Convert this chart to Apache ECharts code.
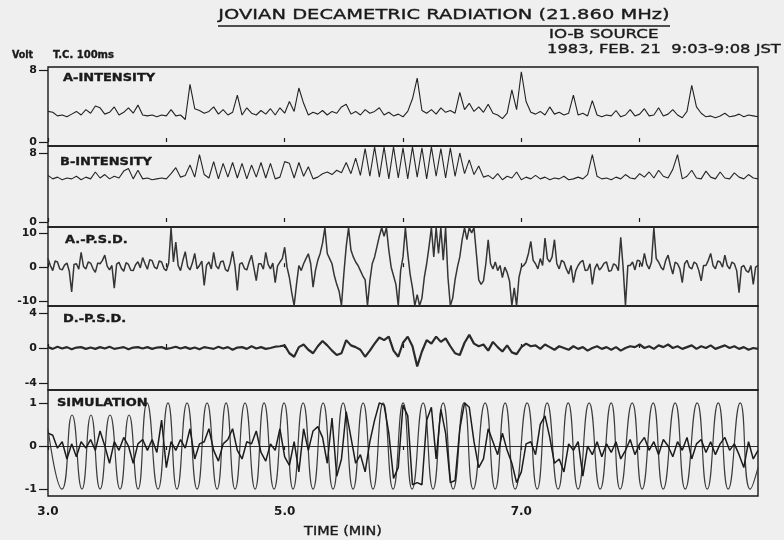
<!DOCTYPE html>
<html>
<head>
<meta charset="utf-8">
<script src="https://cdn.jsdelivr.net/npm/echarts@6/dist/echarts.min.js"></script>
<style>
  html, body { margin: 0; padding: 0; background: #efefef; }
  #chart { width: 784px; height: 540px; }
</style>
</head>
<body>
<div id="chart"></div>
<script>
// sampling of the recorded traces (minutes)
const t0 = 3.0;
const dtSlow = 0.04;   // intensities, D-PSD, measured curve
const dtFast = 0.02;   // A-PSD is read at double density

const timeTicks = [3, 4, 5, 6, 7, 8];
const timeLabels = [3, 5, 7];

const aIntensity = [
  3.4,3.3,2.9,3.0,2.8,3.1,3.4,3.0,3.6,3.2, 4.0,3.8,3.1,3.3,3.9,3.0,3.3,3.8,3.2,4.1,
  3.0,2.9,3.0,2.8,3.0,2.9,3.6,2.9,3.0,2.5, 6.4,3.7,3.5,3.2,3.4,3.9,3.1,3.6,3.0,3.3,
  5.2,3.0,3.8,3.2,3.0,3.5,3.1,3.7,3.0,3.8, 3.2,4.5,3.4,6.0,4.3,3.0,3.3,3.1,3.5,3.0,
  3.4,3.2,3.9,4.2,3.1,3.4,3.0,3.6,3.2,3.4, 3.8,3.0,3.3,2.9,3.1,2.8,3.4,4.8,7.1,3.5,
  3.2,3.6,3.1,3.8,3.3,3.5,3.2,5.5,3.6,4.3, 3.4,3.9,3.3,4.2,3.2,3.0,2.6,3.2,5.8,3.6,
  7.8,4.5,3.3,3.1,3.4,3.0,3.9,3.1,3.3,3.0, 3.2,5.2,3.0,3.2,2.9,4.6,3.0,2.8,3.0,2.9,
  3.5,2.8,3.0,3.6,2.9,3.1,3.7,2.9,3.0,3.8, 2.9,3.1,3.6,3.0,2.7,3.4,6.3,3.9,3.2,2.8,
  2.9,2.7,2.9,3.2,2.8,2.9,3.1,2.8,3.0,2.9, 2.8
];

const bIntensity = [
  5.4,5.0,5.2,4.9,5.1,5.0,5.3,4.9,5.2,5.0, 5.8,5.1,5.5,5.0,5.3,5.1,5.9,6.2,5.0,6.0,
  5.0,5.1,4.9,5.0,5.1,5.0,5.6,6.3,5.2,5.4, 6.6,5.2,7.8,5.5,5.1,7.0,5.0,6.8,5.2,6.9,
  5.1,6.8,5.0,6.6,5.2,6.9,5.1,6.8,5.0,5.2, 7.0,6.8,5.1,6.9,5.3,6.4,5.0,5.2,5.6,5.8,
  5.5,6.0,5.7,6.9,5.6,7.4,5.4,8.5,5.3,8.7, 5.2,8.7,5.0,8.7,5.1,8.6,5.0,8.7,5.2,8.6,
  5.0,8.7,5.3,8.5,5.1,8.6,5.3,8.0,5.6,7.2, 5.5,6.5,5.2,5.4,5.0,5.6,4.9,5.3,5.1,5.8,
  4.9,5.2,5.0,5.4,5.0,5.2,4.9,5.1,5.0,5.3, 4.9,5.0,5.2,5.0,5.5,7.8,5.3,5.0,5.1,4.9,
  5.2,5.0,5.5,5.1,5.0,5.6,5.2,5.8,5.1,6.0, 5.3,5.1,6.1,7.8,5.0,5.3,6.0,5.1,5.0,5.9,
  5.2,5.0,5.8,5.1,5.0,5.7,5.2,5.0,5.5,5.1, 5.0
];

const aPsd = [
  2.5,0.5,-1.0,1.8,1.5,-0.5,-0.8,0.6,1.2,-1.2, -7.2,0.8,1.0,-0.6,4.3,0.2,-0.5,1.5,1.2,-0.4,
  -1.5,1.2,1.0,2.0,3.5,0.3,-0.8,0.5,-6.1,0.9, 1.4,-0.3,-1.2,1.3,0.8,-0.9,-1.0,0.7,1.6,-0.2,
  2.8,1.0,-0.6,2.2,1.9,0.0,-0.5,1.8,1.5,-0.4, -1.0,1.2,11.5,1.5,7.3,0.5,-1.0,2.0,4.5,0.2,
  -0.8,1.2,4.0,-0.5,0.5,1.8,-5.3,0.6,1.5,-0.5, 4.3,0.4,-0.5,1.6,1.8,-0.7,-1.2,1.1,4.6,0.3,
  -6.8,0.9,1.3,-0.4,-0.8,1.5,3.5,-0.2,-3.9,1.0, 1.0,-0.6,4.3,0.8,-0.5,1.2,-4.5,0.4,1.5,2.5,
  5.8,0,-3,-7.5,-11.2,-5,0.5,-1,1,2.5, 3.9,1,-5.8,-1,2,4,7,11.5,4,2.5,
  1,-2.5,-5,-7,-11.2,-2,6,11.5,5,3, 1.5,0.5,-1,-2.5,-3.7,-11.2,-4,1,3,6,
  9,11.5,9,11.5,5,0,-2.5,-5,-11.2,-1, 3,11.5,4,-2,-6,-11.2,-8,-11.2,-9,-3,
  1,6,11.5,3,11.5,4,11.5,2,11.5,-3, -11.2,-9,-3.7,0,3,8,11.5,8,11.5,10,
  11.5,4,-3.7,-5,-4,1,8,1,-0.5,1.5, -1,0.5,-3,0,-1.5,-4,-11.2,-6,-11.2,-3,
  0,0.5,1.5,4.0,7.5,2.0,1.0,-0.5,2.5,0.5, 8.5,2.5,1.5,3.0,8.0,1.0,-0.5,2.0,1.5,-0.5,
  -2.0,0.5,-4.5,-1.0,0.5,1.5,2.0,-1.0,-0.8,1.0, -5.0,-0.5,1.0,-0.8,0.0,1.2,1.5,-1.2,-1.0,1.0,
  0.5,-1.0,8.7,0.0,-11.2,0.5,0.5,1.5,-0.8,2.0, 1.8,0.2,4.0,0.8,-0.5,1.5,11.5,2.5,1.5,0.0,
  -0.8,2.0,3.5,0.5,-2.0,1.5,1.0,-0.5,-4.5,1.0, 2.0,0.0,-0.5,1.5,1.0,-1.0,-4.0,0.5,0.5,2.0,
  4.0,0.5,-0.5,1.8,1.5,0.0,3.5,0.5,-0.5,1.5, 1.0,-1.0,-7.4,0.0,0.5,-1.0,-1.5,0.5,-5.0,0.0,
  0.5
];

const dPsd = [
  0.1,-0.1,0.15,-0.05,0.1,-0.15,0.05,0.1,-0.1,0.05, -0.1,0.1,-0.05,0.15,-0.1,0.0,0.1,-0.15,0.05,0.1,
  -0.05,0.1,-0.1,0.05,0.1,-0.1,0.0,0.15,-0.05,0.1, -0.1,0.05,-0.15,0.1,0.0,-0.1,0.15,-0.05,0.1,-0.2,
  0.05,0.1,-0.1,0.2,-0.05,0.1,-0.1,0.0,0.15,0.2, 0.3,-0.6,-1.0,0.1,0.4,-0.2,-0.6,0.2,0.8,0.3,
  -0.3,-0.8,-0.6,0.9,0.3,0.1,-0.2,-1.0,-0.3,0.5, 1.2,0.9,1.3,-0.3,-1.0,0.6,1.3,0.2,-2.1,-0.4,
  0.9,0.5,1.3,0.7,1.1,0.2,-0.6,-0.8,0.6,1.5, 0.5,0.2,0.4,-0.3,0.7,0.1,-0.4,0.3,-0.5,-0.7,
  0.1,0.5,0.2,0.3,-0.1,0.4,0.1,-0.2,0.2,0.0, -0.2,0.2,-0.1,0.1,-0.3,0.0,0.2,-0.1,0.1,-0.2,
  0.1,-0.3,0.0,0.2,0.1,0.4,0.0,0.2,-0.1,0.3, 0.1,0.4,0.0,0.2,-0.1,0.1,0.3,-0.1,0.2,0.0,
  0.3,-0.1,0.1,0.3,0.0,0.2,-0.1,0.1,-0.2,0.0, -0.1
];

const simMeasured = [
  0.3,0.25,-0.05,0.1,-0.3,0.05,-0.25,0.1,-0.05,0.15, -0.1,0.35,0.0,-0.4,0.1,-0.1,0.2,0.0,-0.4,0.05,
  0.15,-0.1,0.15,-0.15,0.6,-0.5,0.1,-0.1,0.15,-0.05, 0.4,-0.3,0.05,0.1,0.4,-0.1,-0.35,0.05,0.15,0.4,
  -0.1,-0.3,0.1,0.05,0.35,-0.15,-0.35,0.05,-0.1,0.4, -0.25,-0.45,0.1,-0.6,0.4,-0.1,0.35,0.45,0.2,-0.4,
  0.65,-0.7,-0.3,0.8,0.2,-0.4,-0.2,-0.6,0.1,0.6, 1.0,0.95,0.3,-0.75,-0.5,0.95,0.7,-0.9,-0.85,-0.9,
  0.6,0.9,-0.3,0.85,0.3,-0.85,-0.8,0.4,1.0,0.9, 0.1,-0.5,-0.3,0.4,0.1,-0.2,0.3,-0.1,-0.4,-0.85,
  -0.6,0.05,0.1,-0.2,0.5,0.7,0.2,-0.4,-0.3,-0.6, 0.05,-0.1,0.1,-0.7,0.0,-0.2,0.1,-0.25,0.05,-0.15,
  0.1,-0.3,-0.1,0.15,-0.2,0.05,0.2,-0.1,0.1,-0.2, 0.15,0.0,-0.25,0.1,-0.1,0.2,-0.3,0.05,0.15,-0.15,
  0.1,-0.2,0.05,0.2,-0.1,0.05,-0.2,-0.5,0.1,-0.3, -0.1
];

// simulated curve: turning points
const simTimes = [
  3.000,3.118,3.203,3.287,3.363,3.440,3.524,3.609,3.685,3.761,
  3.837,3.930,4.014,4.090,4.175,4.260,4.344,4.429,4.505,4.581,
  4.665,4.750,4.826,4.910,4.995,5.071,5.156,5.240,5.325,5.409,
  5.494,5.578,5.663,5.747,5.832,5.916,6.001,6.077,6.170,6.254,
  6.339,6.424,6.516,6.593,6.694,6.779,6.863,6.948,7.049,7.134,
  7.218,7.311,7.396,7.480,7.573,7.666,7.759,7.835,7.937,8.021,
  8.114,8.199,8.300,8.385,8.486,8.571,8.664,8.748,8.850,8.934,
  9.000
];
const simValues = [
  0.4,-1,0.72,-1,0.72,-1,0.72,-1,0.72,-1,
  1,-1,1,-1,1,-1,1,-1,1,-1,
  1,-1,1,-1,1,-1,1,-1,1,-1,
  1,-1,1,-1,1,-1,1,-1,1,-1,
  1,-1,1,-1,1,-1,1,-1,1,-1,
  1,-1,1,-1,1,-1,1,-1,1,-1,
  1,-1,1,-1,1,-1,1,-1,1,-1,
  -0.5
];

const panelNames = ['A-INTENSITY', 'B-INTENSITY', 'A.-P.S.D.', 'D.-P.S.D.', 'SIMULATION'];
const panelTicks = [[0, 8], [0, 8], [-10, 0, 10], [-4, 0, 4], [-1, 0, 1]];

// layout of the five stacked panels (pixels / axis range)
const panels = [
  { top: 67,  height: 79,  min: -0.44, max: 8.33 },
  { top: 146, height: 81,  min: -0.58, max: 8.81 },
  { top: 227, height: 79,  min: -11.3, max: 11.7 },
  { top: 306, height: 84,  min: -4.8,  max: 4.8 },
  { top: 390, height: 106, min: -1.16, max: 1.30 }
];
const labelPos = [[63, 78], [60, 162], [65, 240], [63, 319], [57, 403]];

const FONT = '"DejaVu Sans", "Liberation Sans", sans-serif';
const INK = '#1a1a1a';

const toPairs = (arr, step) => arr.map((v, i) => [+(t0 + i * step).toFixed(3), v]);

const chart = echarts.init(document.getElementById('chart'), null, { renderer: 'canvas' });

const grids = panels.map(p => ({
  left: 48, right: 26, top: p.top, height: p.height,
  show: true, borderColor: INK, borderWidth: 1.4, backgroundColor: 'transparent'
}));

const xAxes = panels.map((p, k) => ({
  type: 'value', gridIndex: k, min: 3, max: 9,
  axisLine: { show: false },
  splitLine: { show: false },
  axisTick: {
    show: true, customValues: timeTicks, inside: k < 4, length: 4,
    lineStyle: { color: INK, width: 1.2 }
  },
  axisLabel: k === 4 ? {
    show: true, customValues: timeLabels, margin: 10,
    formatter: v => v.toFixed(1),
    fontFamily: FONT, fontSize: 12, fontWeight: 'bold', color: INK
  } : { show: false }
}));

const yAxes = panels.map((p, k) => ({
  type: 'value', gridIndex: k, min: p.min, max: p.max,
  axisLine: { show: false },
  splitLine: { show: false },
  axisTick: { show: true, customValues: panelTicks[k], length: 9, lineStyle: { color: INK, width: 1.2 } },
  axisLabel: {
    show: true, customValues: panelTicks[k], margin: 11,
    fontFamily: FONT, fontSize: 11, fontWeight: 'bold', color: INK
  }
}));

const lineBase = (k, data, color, width) => ({
  type: 'line', xAxisIndex: k, yAxisIndex: k, data: data,
  showSymbol: false, clip: true, animation: false, silent: true,
  lineStyle: { color: color, width: width }
});

const series = [
  lineBase(0, toPairs(aIntensity, dtSlow), '#222222', 1.1),
  lineBase(1, toPairs(bIntensity, dtSlow), '#262626', 1.1),
  lineBase(2, toPairs(aPsd, dtFast), '#353535', 1.5),
  lineBase(3, toPairs(dPsd, dtSlow), '#2a2a2a', 2.2),
  Object.assign(lineBase(4, simTimes.map((t, i) => [t, simValues[i]]), '#3c3c3c', 1.2), {
    smooth: 0.55,
    markLine: {
      silent: true, symbol: 'none', label: { show: false },
      lineStyle: { color: INK, width: 0.9, type: 'solid' },
      data: [{ yAxis: 0 }]
    }
  }),
  lineBase(4, toPairs(simMeasured, dtSlow), '#1c1c1c', 1.5)
];

// header / panel texts; the scan's lettering is wider than DejaVu, hence scaleX
const txt = (x, y, text, font, align, sx) => ({
  type: 'text', x: x, y: y, scaleX: sx, z: 10,
  style: {
    text: text, font: font, fill: INK, stroke: INK, lineWidth: 0.35,
    align: align, verticalAlign: 'middle'
  }
});

const graphic = [
  txt(444, 15, 'JOVIAN DECAMETRIC RADIATION (21.860 MHz)', '14px ' + FONT, 'center', 1.39),
  { type: 'line', shape: { x1: 218, y1: 26, x2: 670, y2: 26 }, style: { stroke: INK, lineWidth: 1.5 } },
  txt(549, 35, 'IO-B SOURCE', '12px ' + FONT, 'left', 1.39),
  txt(547, 50, '1983, FEB. 21  9:03-9:08 JST', '12px ' + FONT, 'left', 1.36),
  txt(12, 55, 'Volt', 'bold 10px ' + FONT, 'left', 0.95),
  txt(53, 55, 'T.C. 100ms', 'bold 10px ' + FONT, 'left', 1.0),
  txt(343, 532, 'TIME (MIN)', '12px ' + FONT, 'center', 1.2)
].concat(panelNames.map((name, k) =>
  txt(labelPos[k][0], labelPos[k][1], name, 'bold 11px ' + FONT, 'left', 1.18)
));

chart.setOption({
  backgroundColor: '#efefef',
  animation: false,
  grid: grids,
  xAxis: xAxes,
  yAxis: yAxes,
  series: series,
  graphic: graphic
});
</script>
</body>
</html>
